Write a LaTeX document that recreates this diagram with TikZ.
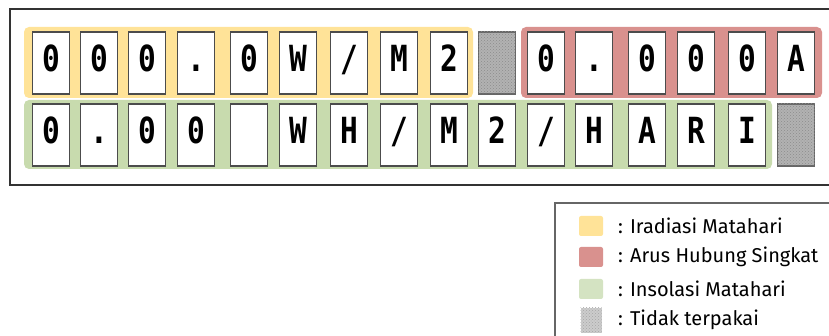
\documentclass[tikz,border=0pt]{standalone}
\usepackage{fontspec}
\setmainfont{Fira Sans}
\newfontfamily\lcdfont[FakeStretch=0.82]{DejaVu Sans Mono Bold}
\usetikzlibrary{patterns}
\definecolor{irradiasi}{HTML}{FFE398}
\definecolor{arus}{HTML}{D9918E}
\definecolor{insolasi}{HTML}{C8DBAE}
\definecolor{insolasiLeg}{HTML}{D4E3C2}

\begin{document}
\begin{tikzpicture}[
    x=1pt, y=-1pt,
    band/.style={rounded corners=5pt},
    cell/.style={draw=black!70, line width=1.1pt, fill=white,
      minimum width=37pt, minimum height=62pt, inner sep=0pt,
      font=\lcdfont\fontsize{36}{36}\selectfont,
      text height=27pt, text depth=9pt},
    unused/.style={cell, draw=black!60, fill=black!30,
      postaction={pattern=crosshatch dots, pattern color=black!45}},
    swatch/.style={minimum width=24pt, minimum height=20pt, inner sep=0pt, rounded corners=2pt},
    legtext/.style={anchor=west, inner sep=0pt, font=\fontsize{20}{20}\selectfont},
  ]
  \clip (0,0) rectangle (829,336);
  \draw[line width=1.8pt, black!80] (10,9) rectangle (850,185);

  % pita warna
  \fill[irradiasi, band] (24,27) rectangle (473,98);
  \fill[arus, band] (521,27) rectangle (822,98);
  \fill[insolasi, band] (24,100) rectangle (772,169);

  % baris 1
  \foreach \x/\ch [count=\i] in {51/0,99/0,147/0,196/.,249/0,298/W,349/{/},399/M,449/2}
    \node[cell] (r1c\i) at (\x,63) {\ch};
  \node[unused] (r1c10) at (497,63) {};
  \foreach \x/\ch [count=\i from 11] in {546/0,594/.,647/0,696/0,747/0,796/A}
    \node[cell] (r1c\i) at (\x,63) {\ch};

  % baris 2
  \foreach \x/\ch [count=\i] in {51/0,99/.,147/0,196/0,249/{},298/W,349/H,399/{/},449/M,497/2,546/{/},594/H,647/A,696/R,747/I}
    \node[cell] (r2c\i) at (\x,135) {\ch};
  \node[unused] (r2c16) at (796,135) {};

  % keterangan
  \draw[line width=1.1pt, black!60] (555,203) rectangle (850,350);
  \node[swatch, fill=irradiasi] (kIrr) at (591,226) {};
  \node[swatch, fill=arus] (kArus) at (591,257) {};
  \node[swatch, fill=insolasiLeg] (kIns) at (591,289) {};
  \node[swatch, rounded corners=0pt, minimum width=21pt, minimum height=25pt, fill=black!20,
    postaction={pattern=crosshatch dots, pattern color=black!35}] (kTdk) at (591,320) {};
  \node[legtext] (tIrr) at (618,226) {: Iradiasi Matahari};
  \node[legtext] (tArus) at (618,257) {: Arus Hubung Singkat};
  \node[legtext] (tIns) at (618,289) {: Insolasi Matahari};
  \node[legtext] (tTdk) at (618,320) {: Tidak terpakai};
\end{tikzpicture}
\end{document}
